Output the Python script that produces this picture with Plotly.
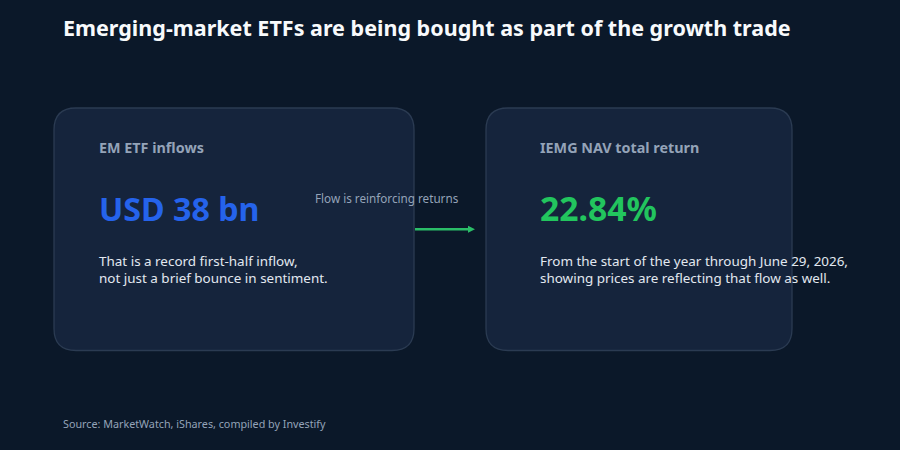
import plotly.graph_objects as go

title = "Emerging-market ETFs are being bought as part of the growth trade"
source = "Source: MarketWatch, iShares, compiled by Investify"
connector_label = "Flow is reinforcing returns"
card_titles = ["EM ETF inflows", "IEMG NAV total return"]
card_values = ["USD 38 bn", "22.84%"]
card_notes = [
    "That is a record first-half inflow,<br>not just a brief bounce in sentiment.",
    "From the start of the year through June 29, 2026,<br>showing prices are reflecting that flow as well.",
]
value_colors = ["#2563eb", "#22c55e"]
value_sizes = [32.2, 33.7]
FONT = "Noto Sans"
BG = "#0b1829"
CARD = "#15243c"
EDGE = "#2b3b52"

cards = [(54, 414, 108, 350.5), (486, 792, 108, 350.5)]
text_x = [97, 538]


def rounded(x0, x1, y0, y1, r=22):
    return (f"M{x0+r},{y0} L{x1-r},{y0} Q{x1},{y0} {x1},{y0+r} L{x1},{y1-r} Q{x1},{y1} {x1-r},{y1} "
            f"L{x0+r},{y1} Q{x0},{y1} {x0},{y1-r} L{x0},{y0+r} Q{x0},{y0} {x0+r},{y0} Z")


fig = go.Figure()
shapes = [dict(type="path", path=rounded(*c), fillcolor=CARD, line=dict(color=EDGE, width=1.3), layer="below") for c in cards]
shapes.append(dict(type="line", x0=415, x1=470, y0=229.3, y1=229.3, line=dict(color="#2bbd68", width=2.5)))
shapes.append(dict(type="path", path="M468,225.8 L475,229.3 L468,232.8 Z", fillcolor="#2bbd68", line=dict(width=0)))

ann = []


def text(x, y, s, size, color, weight=400, anchor="left"):
    ann.append(dict(x=x, y=y, text=s, showarrow=False, xanchor=anchor, yanchor="middle", align="left",
                    font=dict(family=FONT, size=size, color=color, weight=weight)))


text(61, 27.5, title, 21.53, "#f8fafc", 700)
for i in range(2):
    text(text_x[i], 147, card_titles[i], 14.35, "#94a3b8", 700)
    text(text_x[i], 208, card_values[i], value_sizes[i], value_colors[i], 700)
    text(text_x[i], 269, card_notes[i], 13.44, "#e2e8f0")
text(387, 197.5, connector_label, 11.7, "#94a3b8", 400, "center")
text(61, 423.5, source, 10.75, "#94a3b8")

fig.update_layout(
    width=900, height=450, margin=dict(l=0, r=0, t=0, b=0), showlegend=False,
    paper_bgcolor=BG, plot_bgcolor=BG, shapes=shapes, annotations=ann,
    xaxis=dict(range=[0, 900], visible=False, fixedrange=True),
    yaxis=dict(range=[450, 0], visible=False, fixedrange=True),
)
fig.write_html("out.html", config=dict(displayModeBar=False),
               post_script="document.body.style.margin='0';document.body.style.overflow='hidden';"
                           "document.documentElement.style.background='#0b1829';")
